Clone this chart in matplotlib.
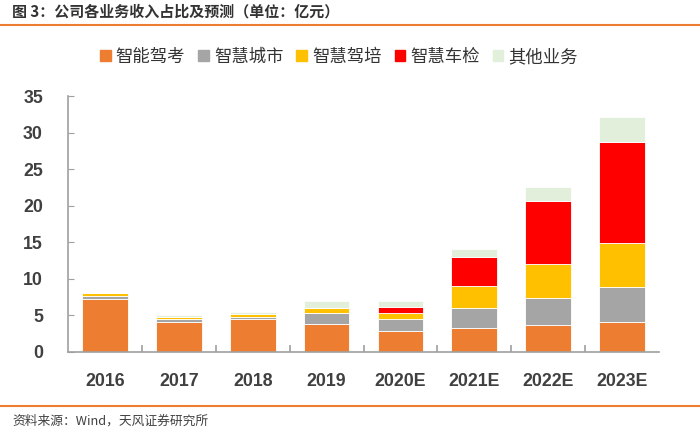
import matplotlib.pyplot as plt
import numpy as np
from matplotlib.lines import Line2D
from matplotlib.patches import Patch

plt.rcParams['font.family'] = ['Liberation Sans', 'Noto Sans CJK SC', 'DejaVu Sans']

years = ['2016', '2017', '2018', '2019', '2020E', '2021E', '2022E', '2023E']
series = ['智能驾考', '智慧城市', '智慧驾培', '智慧车检', '其他业务']
kaokao = [7.3, 4.05, 4.5, 3.85, 2.85, 3.3, 3.75, 4.1]
city = [0.4, 0.45, 0.28, 1.45, 1.65, 2.7, 3.7, 4.85]
peixun = [0.35, 0.25, 0.45, 0.7, 0.9, 3.0, 4.55, 5.9]
chejian = [0, 0, 0, 0, 0.8, 3.95, 8.7, 13.85]
other = [0.05, 0.25, 0.3, 1.0, 0.75, 1.15, 1.85, 3.4]
colors = ['#ED7D31', '#A5A5A5', '#FFC000', '#FF0000', '#E2EFDA']

fig = plt.figure(figsize=(7, 4.32), dpi=100)
ax = fig.add_axes([68/700, (432-352)/432, (659-68)/700, (352-96)/432])

x = np.arange(len(years))
bottom = np.zeros(len(years))
for vals, c, name in zip([kaokao, city, peixun, chejian, other], colors, series):
    ax.bar(x, vals, 0.62, bottom=bottom, color=c, edgecolor='white', linewidth=0.6, label=name)
    bottom += np.array(vals)

ax.set_xlim(-0.5, len(years) - 0.5)
ax.set_ylim(0, 35)
ax.set_yticks(range(0, 36, 5))
ax.set_xticks(x)
ax.set_xticklabels(years)
ax.set_xticks(np.arange(0.5, len(years) - 0.5, 1), minor=True)
for s in ['top', 'right']:
    ax.spines[s].set_visible(False)
for s in ['left', 'bottom']:
    ax.spines[s].set_color('#A0A0A0')
    ax.spines[s].set_linewidth(1.2)
ax.tick_params(axis='y', direction='in', length=4, color='#A0A0A0', pad=18,
               labelsize=12.8, labelcolor='#404040')
ax.tick_params(axis='x', which='major', length=0, pad=15, labelsize=12.8, labelcolor='#404040')
ax.tick_params(axis='x', which='minor', direction='in', length=5, color='#A0A0A0', width=1.2)
for lab in ax.get_xticklabels() + ax.get_yticklabels():
    lab.set_fontweight('bold')

handles = [Patch(color=c) for c in colors]
leg = fig.legend(handles, series, loc='center', bbox_to_anchor=(339/700, 1 - 57/432), ncol=5,
                 frameon=False, handlelength=0.6, handleheight=0.6,
                 handletextpad=0.3, columnspacing=0.75,
                 prop={'family': 'Noto Sans CJK SC', 'size': 12.5})
for t in leg.get_texts():
    t.set_color('#333333')

fig.text(12/700, 1 - 12/432, '图 3：公司各业务收入占比及预测（单位：亿元）', fontsize=10.8,
         fontweight='bold', color='#333333', va='center', ha='left', family='Noto Sans CJK SC')
fig.add_artist(Line2D([0, 1], [1 - 25/432, 1 - 25/432], color='#ED7D31', linewidth=1.5))
fig.add_artist(Line2D([0, 1], [1 - 406/432, 1 - 406/432], color='#ED7D31', linewidth=1.5))
fig.text(12/700, 1 - 421/432, '资料来源：Wind，天风证券研究所', fontsize=9.2, color='#404040',
         va='center', ha='left', family='Noto Sans CJK SC')

fig.savefig('out.png', dpi=100)
